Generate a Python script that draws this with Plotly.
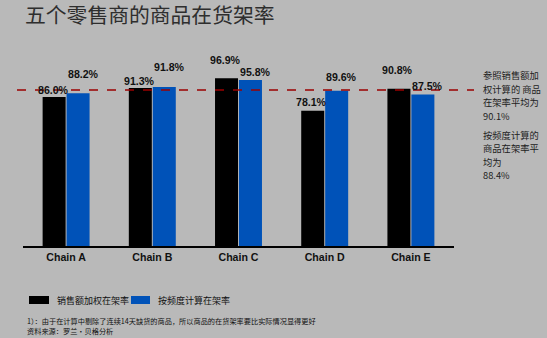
import plotly.graph_objects as go

# Data
chains = ["Chain A", "Chain B", "Chain C", "Chain D", "Chain E"]
sales_weighted = [86.0, 91.3, 96.9, 78.1, 90.8]   # 销售额加权在架率 (%)
frequency_based = [88.2, 91.8, 95.8, 89.6, 87.5]  # 按频度计算在架率 (%)
weighted_avg = 90.1
frequency_avg = 88.4
series_names = ["销售额加权在架率", "按频度计算在架率"]
weighted_note = ["参照销售额加", "权计算的 商品", "在架率平均为", f"{weighted_avg}%"]
frequency_note = ["按频度计算的", "商品在架率平", "均为", f"{frequency_avg}%"]
footnotes = ["1）：由于在计算中剔除了连续14天缺货的商品，所以商品的在货架率要比实际情况显得更好",
             "资料来源：罗兰•贝格分析"]

# Styling
BG = "#b9b9b9"
BLACK = "#000000"
BLUE = "#0052b8"
LATIN = "Liberation Sans, Arial, sans-serif"
CJK = "Noto Sans CJK SC, sans-serif"

# vertical lift (px) of each value label above its bar
black_label_lift = [7, 7, 18, 9, 19]
blue_label_lift = [19, 20, 8, 14, 8]

fig = go.Figure()
fig.add_trace(go.Bar(x=chains, y=sales_weighted, name=series_names[0],
                     marker=dict(color=BLACK, line=dict(width=0))))
fig.add_trace(go.Bar(x=chains, y=frequency_based, name=series_names[1],
                     marker=dict(color=BLUE, line=dict(width=0))))

label_font = dict(family=LATIN, size=10.6, color="#111", weight="bold")
annotations = []
for i, c in enumerate(chains):
    annotations.append(dict(x=c, y=sales_weighted[i], xref="x", yref="y",
                            text=f"{sales_weighted[i]:.1f}%", showarrow=False,
                            xshift=-13, yshift=black_label_lift[i], yanchor="middle",
                            font=label_font))
    annotations.append(dict(x=c, y=frequency_based[i], xref="x", yref="y",
                            text=f"{frequency_based[i]:.1f}%", showarrow=False,
                            xshift=17, yshift=blue_label_lift[i], yanchor="middle",
                            font=label_font))

# pixel helpers for placing things around the plot area
H_TOP, H_BOT = 60, 246
def py(pixel_y):
    return (H_BOT - pixel_y) / (H_BOT - H_TOP)
L, PW = 23, 431
def px(pixel_x):
    return (pixel_x - L) / PW

def note_line(text, x, y, size, color="#222"):
    return dict(xref="paper", yref="paper", x=px(x), y=py(y), xanchor="left", yanchor="middle",
                showarrow=False, text=text, font=dict(family=CJK, size=size, color=color))

# Average notes on the right
for text, y in zip(weighted_note, [75, 88.5, 102, 115.5]):
    annotations.append(note_line(text, 481, y, 9.3))
for text, y in zip(frequency_note, [134.5, 148, 161.5, 175]):
    annotations.append(note_line(text, 481, y, 9.3))

# Legend
annotations.append(note_line(series_names[0], 55, 300, 9, "#111"))
annotations.append(note_line(series_names[1], 156, 300, 9, "#111"))

# Footnotes
annotations.append(note_line(footnotes[0], 25, 321, 7.2, "#111"))
annotations.append(note_line(footnotes[1], 25, 330.6, 7.2, "#111"))

shapes = [
    # average line
    dict(type="line", xref="paper", yref="y", x0=px(17), x1=px(474), y0=weighted_avg, y1=weighted_avg,
         line=dict(color="#9a0000", width=1.5, dash="dash")),
    # legend swatches
    dict(type="rect", xref="paper", yref="paper", x0=px(29), x1=px(49), y0=py(304), y1=py(296),
         fillcolor=BLACK, line=dict(width=0)),
    dict(type="rect", xref="paper", yref="paper", x0=px(131), x1=px(150), y0=py(304), y1=py(296),
         fillcolor=BLUE, line=dict(width=0)),
]

fig.update_layout(
    width=547, height=338,
    margin=dict(l=L, r=547 - L - PW, t=H_TOP, b=338 - H_BOT),
    paper_bgcolor=BG, plot_bgcolor=BG,
    barmode="group", bargap=0.444, bargroupgap=0.04,
    showlegend=False,
    title=dict(text="五个零售商的商品在货架率", x=25 / 547, xanchor="left", xref="container",
               y=1 - 15.5 / 338, yanchor="middle", yref="container",
               font=dict(family=CJK, size=20.8, color="#2e2e2e")),
    xaxis=dict(showline=True, linecolor="black", linewidth=2, ticks="", showgrid=False,
               tickfont=dict(family=LATIN, size=10.6, color="#111", weight="bold"),
               range=[-0.5, 4.5]),
    yaxis=dict(range=[0, 107.4], visible=False, showgrid=False, zeroline=False),
    annotations=annotations,
    shapes=shapes,
)

fig.write_html("out.html")
